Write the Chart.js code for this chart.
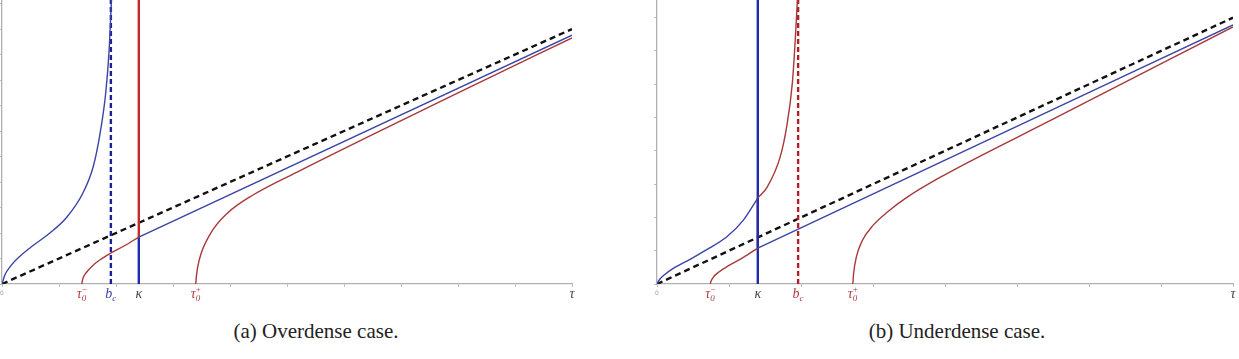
<!DOCTYPE html>
<html>
<head>
<meta charset="utf-8">
<script src="https://cdn.jsdelivr.net/npm/chart.js@4"></script>
<style>
body{margin:0;background:#fff;width:1239px;height:359px;overflow:hidden;position:relative;}
.panel{position:absolute;top:0;height:310px;}
#over{left:-1px;width:600px;}
#under{left:620px;width:619px;}
.cap{position:absolute;top:319px;font-family:"Liberation Serif",serif;font-size:21px;color:#222;transform:translateX(-50%);white-space:nowrap;}
</style>
</head>
<body>
<div class="panel" id="over"><canvas id="overChart"></canvas></div>
<div class="panel" id="under"><canvas id="underChart"></canvas></div>
<div class="cap" style="left:316px">(a) Overdense case.</div>
<div class="cap" style="left:957px">(b) Underdense case.</div>
<script>
// ---- (a) overdense: values, tau on x, y = same units
const overXMax = 10, overYMax = 11.14;
const overMarkX = [1.4, 1.91, 2.4, 3.4, 10];        // tau0-, b_c, kappa, tau0+, tau
const overMarkText = ['τ', 'b', 'κ', 'τ', 'τ'];
const overMarkSub = ['0', 'c', '', '0', ''];
const overMarkSup = ['−', '', '', '+', ''];

const overBlueCurveX = [0, 0.05, 0.15, 0.32, 0.54, 0.84, 1.14, 1.42, 1.6, 1.72, 1.82, 1.88, 1.92];
const overBlueCurveY = [0, 0.35, 0.7, 1.1, 1.5, 2.0, 2.63, 3.57, 4.6, 5.9, 7.5, 9.2, 11.14];
const overRedLowX = [1.4, 1.42, 1.48, 1.58, 1.72, 1.9, 2.15, 2.4];
const overRedLowY = [0, 0.22, 0.45, 0.7, 0.95, 1.2, 1.5, 1.84];
const overBlueLineX = [2.4, 10];
const overBlueLineY = [1.84, 9.76];
const overRedHighX = [3.4, 3.41, 3.46, 3.65, 3.94, 4.41, 5.23, 6.5, 8, 10];
const overRedHighY = [0, 0.3, 0.94, 1.95, 2.75, 3.5, 4.45, 5.86, 7.5, 9.65];
const overDiagX = [0, 10];
const overDiagY = [0, 10];

// ---- (b) underdense
const underXMax = 8, underYMax = 8.53;
const underMarkX = [0.74, 1.4, 1.96, 2.72, 8];     // tau0-, kappa, b_c, tau0+, tau
const underMarkText = ['τ', 'κ', 'b', 'τ', 'τ'];
const underMarkSub = ['0', '', 'c', '0', ''];
const underMarkSup = ['−', '', '', '+', ''];

const underBlueCurveX = [0, 0.03, 0.1, 0.22, 0.46, 0.69, 0.97, 1.2, 1.4];
const underBlueCurveY = [0, 0.12, 0.27, 0.46, 0.74, 1.03, 1.42, 1.92, 2.58];
const underRedUpX = [1.4, 1.53, 1.71, 1.8, 1.88, 1.92, 1.95];
const underRedUpY = [2.58, 2.91, 3.81, 4.71, 6.04, 7.33, 8.53];
const underRedLowX = [0.74, 0.75, 0.78, 0.86, 1.0, 1.2, 1.4];
const underRedLowY = [0, 0.08, 0.2, 0.36, 0.56, 0.8, 1.08];
const underBlueLineX = [1.4, 8];
const underBlueLineY = [1.08, 7.78];
const underRedHighX = [2.72, 2.73, 2.77, 2.85, 3.0, 3.2, 3.47, 3.93, 5.5, 8];
const underRedHighY = [0, 0.3, 0.82, 1.3, 1.76, 2.16, 2.6, 3.2, 4.95, 7.72];
const underDiagX = [0, 8];
const underDiagY = [0, 8];

const BLUE = '#3a44a6', RED = '#a8383a', BLUE_V = '#1e2cb0', RED_V = '#c42a2c';

function pts(xs, ys) {
    return xs.map((x, i) => ({x: x, y: ys[i]}));
}

function curve(xs, ys, color, width) {
    return {data: pts(xs, ys), borderColor: color, borderWidth: width || 1.4,
        showLine: true, pointRadius: 0, cubicInterpolationMode: 'monotone', fill: false};
}

function vline(x, y0, y1, color, width, dash) {
    return {data: [{x: x, y: y0}, {x: x, y: y1}], borderColor: color, borderWidth: width,
        borderDash: dash || [], showLine: true, pointRadius: 0, tension: 0, fill: false};
}

const markLabels = {
    id: 'markLabels',
    afterDraw(chart, args, opts) {
        const ctx = chart.ctx;
        const xs = chart.scales.x;
        const base = chart.chartArea.bottom + 14;
        ctx.save();
        ctx.textBaseline = 'alphabetic';
        opts.values.forEach(function(v, i) {
            const px = xs.getPixelForValue(v);
            ctx.font = 'italic 14px "Liberation Serif", serif';
            const wm = ctx.measureText(opts.text[i]).width;
            ctx.font = '9px "Liberation Serif", serif';
            const ws = Math.max(ctx.measureText(opts.sub[i]).width, ctx.measureText(opts.sup[i]).width);
            const left = px - (wm + ws) / 2;
            ctx.fillStyle = opts.colors[i];
            ctx.font = 'italic 14px "Liberation Serif", serif';
            ctx.fillText(opts.text[i], left, base);
            ctx.font = 'italic 9px "Liberation Serif", serif';
            if (opts.sub[i]) ctx.fillText(opts.sub[i], left + wm, base + 3);
            ctx.font = '9px "Liberation Serif", serif';
            if (opts.sup[i]) ctx.fillText(opts.sup[i], left + wm, base - 6);
        });
        // tiny origin label
        ctx.fillStyle = '#999';
        ctx.font = '6px "DejaVu Sans", sans-serif';
        ctx.textAlign = 'center';
        ctx.fillText('0', xs.getPixelForValue(0), base - 3);
        ctx.restore();
    }
};

function axes(xMax, yMax) {
    const grid = {display: true, drawOnChartArea: false, drawTicks: true, tickLength: 3, color: '#bdbdbd', lineWidth: 1};
    const border = {display: true, color: '#b0b0b0', width: 1.3};
    return {
        x: {type: 'linear', min: 0, max: xMax, grid: grid, border: border,
            ticks: {display: false, stepSize: 1, includeBounds: false}},
        y: {type: 'linear', min: 0, max: yMax, grid: grid, border: border,
            ticks: {display: false, stepSize: 1, includeBounds: false}}
    };
}

function makeChart(id, datasets, xMax, yMax, padding, labels) {
    return new Chart(document.getElementById(id), {
        type: 'scatter',
        data: {datasets: datasets},
        options: {
            responsive: true,
            maintainAspectRatio: false,
            animation: false,
            layout: {padding: padding},
            scales: axes(xMax, yMax),
            plugins: {legend: {display: false}, tooltip: {enabled: false}, markLabels: labels}
        },
        plugins: [markLabels]
    });
}

makeChart('overChart', [
    curve(overBlueCurveX, overBlueCurveY, BLUE),
    curve(overRedLowX, overRedLowY, RED),
    curve(overBlueLineX, overBlueLineY, BLUE),
    curve(overRedHighX, overRedHighY, RED),
    vline(overMarkX[1], 0, overYMax, '#1a1f9c', 2.4, [5, 3]),
    vline(overMarkX[2], overBlueLineY[0], overYMax, RED_V, 2.4),
    vline(overMarkX[2], 0, overBlueLineY[0], BLUE_V, 2.4),
    {data: pts(overDiagX, overDiagY), borderColor: '#111', borderWidth: 2.4, borderDash: [6, 4],
        showLine: true, pointRadius: 0, tension: 0, fill: false}
], overXMax, overYMax, {left: 0, right: 27, top: 0, bottom: 23}, {
    values: overMarkX, text: overMarkText, sub: overMarkSub, sup: overMarkSup,
    colors: ['#b03a40', '#3a40b0', '#444', '#b03a40', '#444']
});

makeChart('underChart', [
    curve(underBlueCurveX, underBlueCurveY, BLUE),
    curve(underRedUpX, underRedUpY, RED),
    curve(underRedLowX, underRedLowY, RED),
    curve(underBlueLineX, underBlueLineY, BLUE),
    curve(underRedHighX, underRedHighY, RED),
    vline(underMarkX[1], 0, underYMax, BLUE_V, 2.4),
    vline(underMarkX[1], underBlueLineY[0], underBlueCurveY[underBlueCurveY.length - 1], RED_V, 2.4),
    vline(underMarkX[2], 0, underYMax, '#b02024', 2.4, [5, 3]),
    {data: pts(underDiagX, underDiagY), borderColor: '#111', borderWidth: 2.4, borderDash: [6, 4],
        showLine: true, pointRadius: 0, tension: 0, fill: false}
], underXMax, underYMax, {left: 34, right: 6, top: 0, bottom: 23}, {
    values: underMarkX, text: underMarkText, sub: underMarkSub, sup: underMarkSup,
    colors: ['#b03a40', '#444', '#b03a40', '#b03a40', '#444']
});
</script>
</body>
</html>
